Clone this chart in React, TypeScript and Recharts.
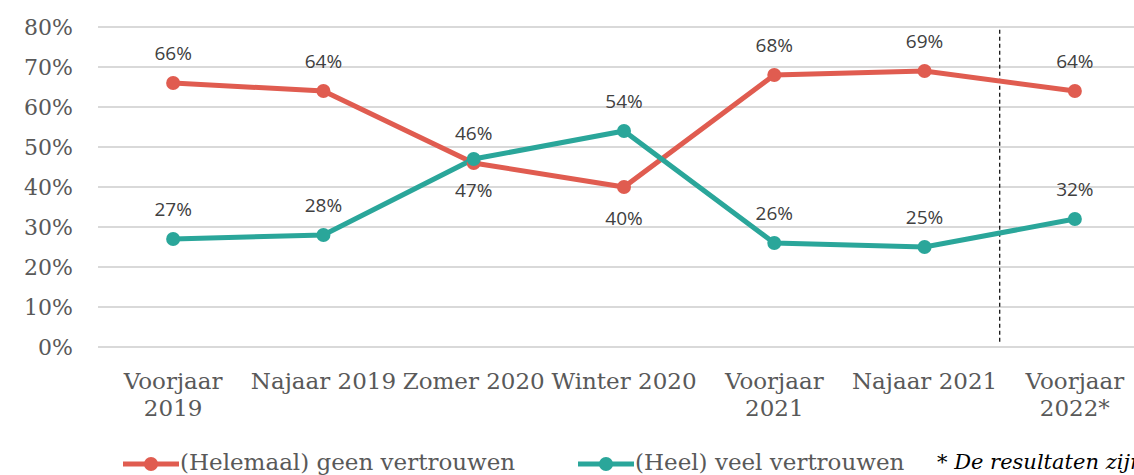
import React from 'react';
import { LineChart, Line, XAxis, YAxis, CartesianGrid, ReferenceLine, LabelList } from 'recharts';

const categories = ['Voorjaar\n2019', 'Najaar 2019', 'Zomer 2020', 'Winter 2020', 'Voorjaar\n2021', 'Najaar 2021', 'Voorjaar\n2022*'];
const geenVertrouwen = [66, 64, 46, 40, 68, 69, 64];
const veelVertrouwen = [27, 28, 47, 54, 26, 25, 32];
const geenLabelPos = ['top', 'top', 'top', 'bottom', 'top', 'top', 'top'];
const veelLabelPos = ['top', 'top', 'bottom', 'top', 'top', 'top', 'top'];
const yTicks = [0, 10, 20, 30, 40, 50, 60, 70, 80];
const seriesNames = ['(Helemaal) geen vertrouwen', '(Heel) veel vertrouwen'];
const footnote = '* De resultaten zijn';
// dashed separator sits between "Najaar 2021" and "Voorjaar 2022*"
const separatorBetween = [5, 6];

const RED = '#E05C50';
const TEAL = '#2AA69A';
const SERIF = '"DejaVu Serif", serif';

const data = categories.map((c, i) => ({
  idx: i,
  category: c,
  geen: geenVertrouwen[i],
  veel: veelVertrouwen[i],
}));
const xTicks = categories.map((_, i) => i);

const XTick = (props: any) => {
  const { x, y, payload } = props;
  const label = categories[payload.value] ?? '';
  const lines = String(label).split('\n');
  return (
    <text x={x} y={y} textAnchor="middle" fill="#595959" fontFamily={SERIF} fontSize={23}>
      {lines.map((l, i) => (
        <tspan key={i} x={x} dy={i === 0 ? 36 : 27}>{l}</tspan>
      ))}
    </text>
  );
};

const makeLabel = (positions: string[]) => (props: any) => {
  const { x, y, value, index } = props;
  const below = positions[index] === 'bottom';
  return (
    <text x={x} y={below ? y + 31 : y - 30} textAnchor="middle" dominantBaseline="central"
      fill="#404040" fontFamily='"Open Sans", sans-serif' fontSize={19}>
      {value}%
    </text>
  );
};

const LegendIcon = ({ color }: { color: string }) => (
  <svg width={58} height={20} style={{ verticalAlign: 'middle' }}>
    <line x1={1} y1={10} x2={57} y2={10} stroke={color} strokeWidth={5} />
    <circle cx={29} cy={10} r={7} fill={color} />
  </svg>
);

export default function App() {
  const sepX = (separatorBetween[0] + separatorBetween[1]) / 2;
  return (
    <div style={{ position: 'fixed', left: 0, top: 0, width: 1134, height: 475, overflow: 'hidden', background: '#fff' }}>
      <LineChart width={1160} height={475} data={data} margin={{ top: 27, right: 10, left: 0, bottom: 0 }}>
        <CartesianGrid vertical={false} stroke="#d9d9d9" strokeWidth={2} />
        <XAxis dataKey="idx" type="number" domain={[-0.5, categories.length - 0.5]} ticks={xTicks}
          interval={0} height={128} tickLine={false} tickMargin={0} allowDataOverflow
          axisLine={{ stroke: '#d9d9d9', strokeWidth: 2 }} tick={<XTick />} />
        <YAxis domain={[0, 80]} ticks={yTicks} width={98} axisLine={false} tickLine={false} tickMargin={19}
          tickFormatter={(v: number) => `${v}%`}
          tick={{ fill: '#595959', fontFamily: SERIF, fontSize: 22 }} />
        <ReferenceLine segment={[{ x: sepX, y: 79.3 }, { x: sepX, y: 1.2 }]}
          stroke="#000" strokeWidth={1.2} strokeDasharray="4 3" />
        <Line dataKey="geen" name={seriesNames[0]} stroke={RED} strokeWidth={5} isAnimationActive={false}
          dot={{ r: 7, fill: RED, stroke: RED, strokeWidth: 0 }} activeDot={false}>
          <LabelList dataKey="geen" content={makeLabel(geenLabelPos)} />
        </Line>
        <Line dataKey="veel" name={seriesNames[1]} stroke={TEAL} strokeWidth={5} isAnimationActive={false}
          dot={{ r: 7, fill: TEAL, stroke: TEAL, strokeWidth: 0 }} activeDot={false}>
          <LabelList dataKey="veel" content={makeLabel(veelLabelPos)} />
        </Line>
      </LineChart>
      <div style={{ position: 'absolute', top: 449, left: 122, whiteSpace: 'nowrap', fontFamily: SERIF, fontSize: 23, color: '#595959', lineHeight: '26px' }}>
        <span style={{ position: 'absolute', left: 0 }}>
          <LegendIcon color={RED} />{seriesNames[0]}
        </span>
        <span style={{ position: 'absolute', left: 455 }}>
          <LegendIcon color={TEAL} />{seriesNames[1]}
        </span>
        <span style={{ position: 'absolute', left: 815, fontStyle: 'italic', color: '#000', fontSize: 21 }}>{footnote}</span>
      </div>
    </div>
  );
}
